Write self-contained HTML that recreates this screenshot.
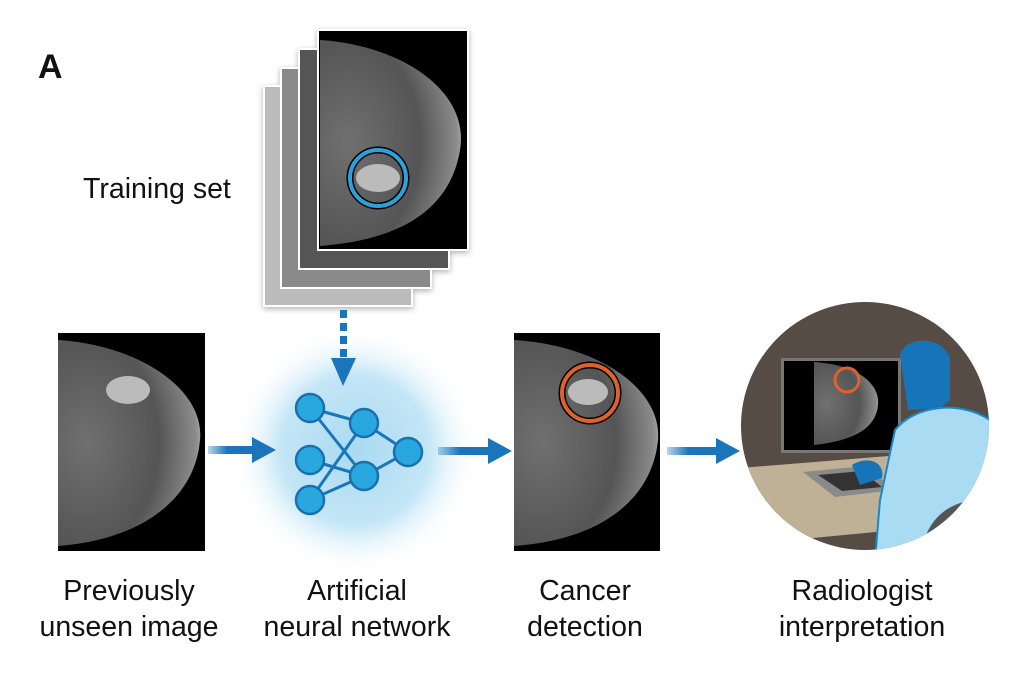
<!DOCTYPE html>
<html><head><style>
body{margin:0;background:#fff;}
svg{display:block;font-family:"Liberation Sans",sans-serif;}
</style></head><body>
<svg width="1012" height="676" viewBox="0 0 1012 676">
<defs>
<radialGradient id="glow" cx="50%" cy="50%" r="50%">
<stop offset="0" stop-color="#a9daf1"/><stop offset="0.6" stop-color="#c4e6f6"/><stop offset="1" stop-color="#ffffff" stop-opacity="0"/>
</radialGradient>
<radialGradient id="br" cx="20%" cy="50%" r="85%">
<stop offset="0" stop-color="#707070"/><stop offset="0.6" stop-color="#555"/><stop offset="0.9" stop-color="#8a8a8a"/><stop offset="1" stop-color="#bbb"/>
</radialGradient>
<linearGradient id="fadeL" x1="0" x2="1"><stop offset="0" stop-color="#1a75bb" stop-opacity="0.3"/><stop offset="0.4" stop-color="#1a75bb"/></linearGradient>
<clipPath id="cc"><circle cx="865" cy="426" r="124"/></clipPath>
<filter id="sh"><feDropShadow dx="0" dy="2" stdDeviation="3" flood-opacity="0.3"/></filter>
</defs>

<text x="38" y="78" font-size="34" font-weight="bold" fill="#111">A</text>
<text x="83" y="198" font-size="28.5" fill="#111">Training set</text>

<g filter="url(#sh)">
<rect x="264" y="86" width="148" height="220" fill="#bbb" stroke="#fff" stroke-width="2"/>
<rect x="281" y="68" width="150" height="220" fill="#8a8a8a" stroke="#fff" stroke-width="2"/>
<rect x="299" y="49" width="150" height="220" fill="#555" stroke="#fff" stroke-width="2"/>
<rect x="318" y="30" width="150" height="220" fill="#000" stroke="#fff" stroke-width="2"/>
</g>
<path d="M320 40 C400 45 470 90 460 150 C450 210 400 240 320 246 Z" fill="url(#br)"/>
<ellipse cx="378" cy="178" rx="22" ry="14" fill="#bbb"/>
<circle cx="378" cy="178" r="28" fill="none" stroke="#000" stroke-width="7"/>
<circle cx="378" cy="178" r="28" fill="none" stroke="#2aa3dc" stroke-width="4"/>

<circle cx="355" cy="450" r="125" fill="url(#glow)"/>
<g fill="#1a75bb">
<rect x="340" y="310" width="7" height="8"/><rect x="340" y="323" width="7" height="8"/><rect x="340" y="336" width="7" height="8"/><rect x="340" y="349" width="7" height="8"/>
<polygon points="331,358 356,358 343,386"/>
</g>
<g stroke="#1a75bb" stroke-width="3">
<line x1="310" y1="408" x2="364" y2="423"/><line x1="310" y1="408" x2="364" y2="476"/>
<line x1="310" y1="460" x2="364" y2="476"/><line x1="310" y1="500" x2="364" y2="423"/>
<line x1="310" y1="500" x2="364" y2="476"/><line x1="364" y1="423" x2="408" y2="452"/><line x1="364" y1="476" x2="408" y2="452"/>
</g>
<g fill="#29a8e0" stroke="#1a6fb0" stroke-width="2.5">
<circle cx="310" cy="408" r="14"/><circle cx="310" cy="460" r="14"/><circle cx="310" cy="500" r="14"/>
<circle cx="364" cy="423" r="14"/><circle cx="364" cy="476" r="14"/><circle cx="408" cy="452" r="14"/>
</g>

<rect x="58" y="333" width="147" height="218" fill="#000"/>
<path d="M58 340 C140 345 205 390 200 440 C195 500 140 540 58 546 Z" fill="url(#br)"/>
<ellipse cx="128" cy="390" rx="22" ry="14" fill="#bbb"/>
<rect x="514" y="333" width="146" height="218" fill="#000"/>
<path d="M514 340 C600 345 662 390 658 440 C652 500 600 540 514 546 Z" fill="url(#br)"/>
<ellipse cx="588" cy="392" rx="20" ry="13" fill="#bbb"/>
<circle cx="590" cy="393" r="28" fill="none" stroke="#000" stroke-width="7"/>
<circle cx="590" cy="393" r="28" fill="none" stroke="#e0622a" stroke-width="4"/>

<g fill="#1a75bb">
<rect x="208" y="446" width="48" height="8" fill="url(#fadeL)"/><polygon points="252,437 276,450 252,463"/>
<rect x="438" y="447" width="54" height="8" fill="url(#fadeL)"/><polygon points="488,438 512,451 488,464"/>
<rect x="667" y="447" width="54" height="8" fill="url(#fadeL)"/><polygon points="716,438 740,451 716,464"/>
</g>

<g clip-path="url(#cc)">
<rect x="740" y="300" width="260" height="260" fill="#574b45"/>
<polygon points="740,468 900,455 1000,450 1000,520 740,545" fill="#bfb196"/>
<rect x="781" y="358" width="120" height="95" fill="#777"/>
<rect x="784" y="361" width="114" height="89" fill="#000"/>
<path d="M814 362 C860 365 880 385 878 405 C876 425 860 440 814 445 Z" fill="url(#br)"/>
<circle cx="847" cy="380" r="12" fill="none" stroke="#e0622a" stroke-width="3"/>
<polygon points="803,472 865,466 895,490 835,497" fill="#8a8a8a"/>
<polygon points="818,475 862,471 882,487 842,491" fill="#333"/>
<path d="M900 355 C905 335 945 335 950 360 L950 400 L940 408 L908 410 Z" fill="#1674b8"/>
<path d="M895 430 C915 405 960 400 990 420 L1000 560 L875 560 L880 500 Z" fill="#a9dcf2" stroke="#1a88c8" stroke-width="2"/>
<path d="M852 465 C868 455 885 462 882 478 L860 485 Z" fill="#1674b8"/>
<path d="M920 560 C925 510 960 495 1000 500 L1000 560 Z" fill="#555"/>
</g>

<g font-size="28.5" fill="#111" text-anchor="middle">
<text x="129" y="600">Previously</text><text x="129" y="636">unseen image</text>
<text x="357" y="600">Artificial</text><text x="357" y="636">neural network</text>
<text x="585" y="600">Cancer</text><text x="585" y="636">detection</text>
<text x="862" y="600">Radiologist</text><text x="862" y="636">interpretation</text>
</g>
</svg>
</body></html>
